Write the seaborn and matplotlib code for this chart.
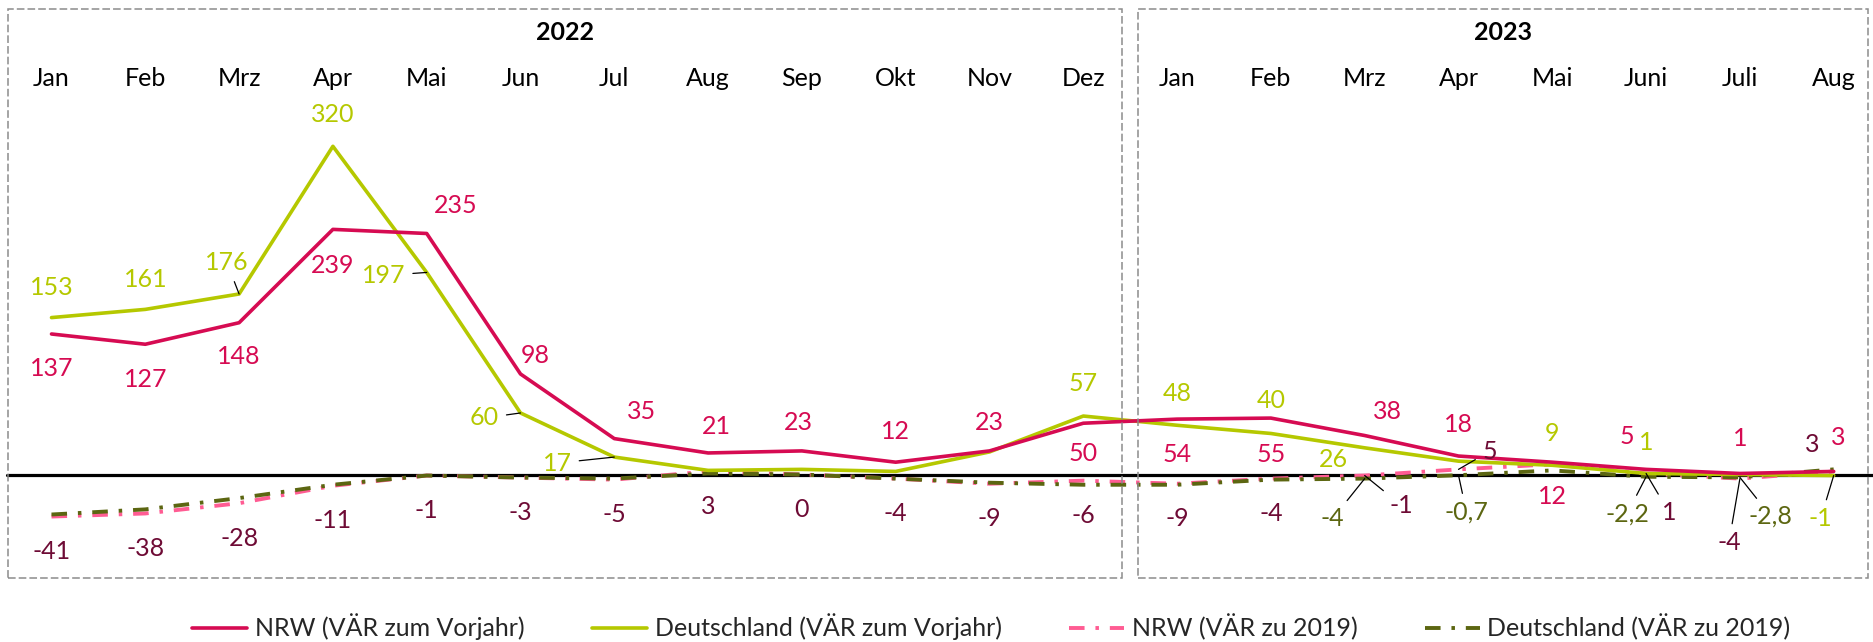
import numpy as np
import matplotlib.pyplot as plt
from matplotlib.patches import Rectangle
import seaborn as sns

sns.set_theme(style="white")
plt.rcParams["font.family"] = ["Lato", "DejaVu Sans"]

# ── Daten ───────────────────────────────────────────────────────
monate_2022 = ["Jan", "Feb", "Mrz", "Apr", "Mai", "Jun", "Jul", "Aug", "Sep", "Okt", "Nov", "Dez"]
monate_2023 = ["Jan", "Feb", "Mrz", "Apr", "Mai", "Juni", "Juli", "Aug"]

nrw_vorjahr = [137, 127, 148, 239, 235, 98, 35, 21, 23, 12, 23, 50,
               54, 55, 38, 18, 12, 5, 1, 3]
de_vorjahr = [153, 161, 176, 320, 197, 60, 17, 4, 5, 3, 22, 57,
              48, 40, 26, 13, 9, 1, 0, -1]
nrw_2019 = [-41, -38, -28, -11, -1, -3, -5, 3, 0, -4, -9, -6,
            -9, -4, -1, 5, 10, 1, -4, 3]
de_2019 = [-39, -34, -23, -10, -1, -3, -4, 1, 0, -4, -8, -10,
           -10, -5, -4, -0.7, 4, -2.2, -2.8, 5]

serien = ["NRW (VÄR zum Vorjahr)", "Deutschland (VÄR zum Vorjahr)",
          "NRW (VÄR zu 2019)", "Deutschland (VÄR zu 2019)"]

monate = monate_2022 + monate_2023
pos = np.arange(len(monate))

# Farben
C_NRW = "#d60b52"
C_DE = "#b5c800"
C_NRW19 = "#ff5c93"
C_DE19 = "#5c6611"
C_LAB19 = "#6e0b35"

# ── Figur: Pixelraster 1874 x 642 ───────────────────────────────
W, H = 1874, 642
fig = plt.figure(figsize=(W / 100, H / 100), dpi=100)
ax = fig.add_axes([0, 0, 1, 1])
ax.set_axis_off()

X0, DX = 51.5, 93.8      # px der ersten Kategorie, px je Kategorie
Y0, DY = 474.5, 1.0256   # px der Nulllinie, px je Einheit
ax.set_xlim(-X0 / DX, (W - X0) / DX)
ax.set_ylim(-(H - Y0) / DY, Y0 / DY)


def py(px):
    return (Y0 - px) / DY


FS = 18

# Nulllinie
ax.axhline(0, xmin=7 / W, color="black", lw=2.3, zorder=2)

# ── Linien ──────────────────────────────────────────────────────
dash = (0, (4, 2.8, 0.9, 2.8))
sns.lineplot(x=pos, y=nrw_2019, color=C_NRW19, lw=2.8, ax=ax, zorder=3)
sns.lineplot(x=pos, y=de_2019, color=C_DE19, lw=2.8, ax=ax, zorder=3)
sns.lineplot(x=pos, y=de_vorjahr, color=C_DE, lw=2.6, ax=ax, zorder=4)
sns.lineplot(x=pos, y=nrw_vorjahr, color=C_NRW, lw=2.6, ax=ax, zorder=5)
l_nrw19, l_de19, l_de, l_nrw = ax.lines[1:5]
l_nrw19.set_linestyle(dash)
l_de19.set_linestyle(dash)

# ── Datenbeschriftungen (Versatz in px, y nach unten) ───────────
def fmt(v):
    return f"{v:g}".replace(".", ",")


def beschriften(werte, versatz, farbe, leader=()):
    for i, (dx, dy) in versatz.items():
        arrow = None
        if i in leader:
            arrow = dict(arrowstyle="-", color="black", lw=0.9, shrinkA=3, shrinkB=0)
        ax.annotate(fmt(werte[i]), xy=(pos[i], werte[i]), xytext=(dx, -dy),
                    textcoords="offset pixels", ha="center", va="center",
                    fontsize=FS, color=farbe, arrowprops=arrow, zorder=6)


off_nrw = {0: (0, 35), 1: (0, 35), 2: (0, 34), 3: (0, 36), 4: (29, -28), 5: (15, -18),
           6: (27, -27), 7: (8, -26), 8: (-4, -28), 9: (0, -31), 10: (0, -28), 11: (0, 30),
           12: (0, 35), 13: (0, 36), 14: (23, -24), 15: (0, -32), 16: (0, 34), 17: (-19, -33),
           18: (0, -35), 19: (5, -34)}
off_de = {0: (0, -30), 1: (0, -30), 2: (-12, -31), 3: (0, -32), 4: (-43, 3), 5: (-36, 5),
          6: (-57, 6), 11: (0, -33), 12: (0, -32), 13: (0, -33), 14: (-31, 12), 16: (0, -32),
          17: (0, -31), 19: (-13, 43)}
off_nrw19 = {i: (0, 35) for i in range(14)}
off_nrw19.update({14: (37, 30), 15: (31, -18), 17: (23, 39), 18: (-11, 64), 19: (-21, -27)})
off_de19 = {14: (-32, 40), 15: (8, 37), 17: (-19, 37), 18: (31, 39)}

beschriften(nrw_vorjahr, off_nrw, C_NRW)
beschriften(de_vorjahr, off_de, C_DE, leader=(2, 4, 5, 6, 19))
beschriften(nrw_2019, off_nrw19, C_LAB19, leader=(14, 15, 17, 18))
beschriften(de_2019, off_de19, C_DE19, leader=(14, 15, 17, 18))

# ── Monate, Jahre, Rahmen ───────────────────────────────────────
for i, m in enumerate(monate):
    ax.text(pos[i], py(79), m, ha="center", va="center", fontsize=FS, color="black")

for (x1, x2), jahr in zip([(8, 1122), (1137.5, 1868)], ["2022", "2023"]):
    fig.patches.append(Rectangle((x1 / W, 1 - 578 / H), (x2 - x1) / W, (578 - 9) / H,
                                 transform=fig.transFigure, fill=False, ec="#8c8c8c",
                                 lw=1.1, ls=(0, (5, 2))))
    fig.text((x1 + x2) / 2 / W, 1 - 33 / H, jahr, ha="center", va="center",
             fontsize=FS, fontweight="bold", color="black")

# ── Legende ─────────────────────────────────────────────────────
ax.legend([l_nrw, l_de, l_nrw19, l_de19], serien, loc="center",
          bbox_to_anchor=(991.5 / W, 1 - 627 / H), bbox_transform=fig.transFigure,
          ncol=4, frameon=False, fontsize=FS, handlelength=2.2,
          handletextpad=0.3, columnspacing=2.7)

fig.savefig("out.png", dpi=100)
